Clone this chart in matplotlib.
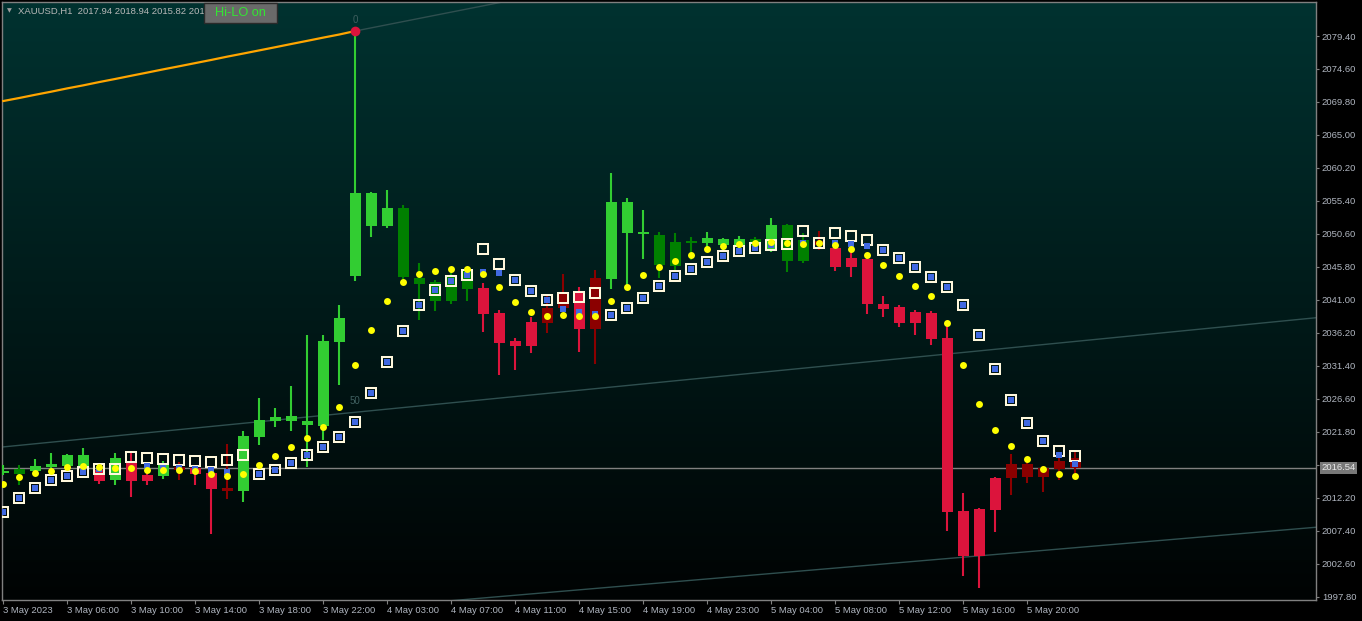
import numpy as np
import matplotlib.pyplot as plt
import matplotlib.transforms as mtransforms
from matplotlib.patches import Rectangle

# XAUUSD H1 candles (one per hour bar)
opens = [2015.85, 2015.70, 2016.13, 2016.72, 2016.86, 2016.57, 2016.24, 2014.78, 2017.21, 2015.51,
         2015.41, 2016.72, 2016.57, 2015.84, 2013.57, 2013.18, 2021.08, 2023.41, 2023.41, 2022.79,
         2022.64, 2034.91, 2044.51, 2051.79, 2051.79, 2044.37, 2043.35, 2040.88, 2040.88, 2042.62,
         2042.72, 2039.09, 2034.97, 2037.78, 2039.81, 2042.00, 2042.19, 2044.18, 2044.03, 2050.73,
         2050.63, 2046.07, 2045.93, 2049.27, 2049.27, 2048.98, 2048.98, 2048.84, 2048.25, 2046.65,
         2046.65, 2049.57, 2048.55, 2047.09, 2046.95, 2040.40, 2039.96, 2039.23, 2039.09, 2035.45,
         2010.27, 2010.56, 2015.07, 2017.11, 2017.11, 2016.53, 2017.55, 2017.94]
highs = [2016.90, 2016.96, 2017.84, 2018.75, 2018.57, 2019.44, 2016.82, 2018.75, 2018.71, 2016.96,
         2017.55, 2017.40, 2016.96, 2016.67, 2020.02, 2021.91, 2026.72, 2025.30, 2028.46, 2035.88,
         2035.88, 2040.25, 2080.13, 2056.70, 2056.99, 2054.80, 2046.36, 2043.90, 2045.05, 2045.49,
         2043.45, 2039.52, 2035.45, 2038.50, 2041.56, 2044.76, 2042.87, 2045.34, 2059.46, 2055.82,
         2054.08, 2050.88, 2050.73, 2050.15, 2050.88, 2050.00, 2050.29, 2050.15, 2052.91, 2052.04,
         2050.73, 2051.02, 2049.13, 2047.96, 2047.24, 2041.56, 2040.25, 2039.52, 2039.38, 2037.34,
         2012.89, 2010.70, 2015.22, 2018.57, 2017.84, 2016.82, 2018.86, 2018.94]
lows = [2015.50, 2014.05, 2015.41, 2015.61, 2016.75, 2016.50, 2014.20, 2014.05, 2012.35, 2014.05,
        2014.93, 2014.78, 2014.05, 2006.97, 2012.02, 2011.58, 2019.87, 2022.54, 2021.91, 2016.72,
        2020.60, 2028.61, 2043.79, 2050.19, 2051.50, 2043.89, 2038.07, 2039.42, 2040.40, 2040.88,
        2036.36, 2030.11, 2030.83, 2033.31, 2036.22, 2039.23, 2033.45, 2031.71, 2042.58, 2042.91,
        2046.95, 2044.18, 2045.34, 2046.80, 2048.69, 2048.25, 2048.40, 2048.25, 2047.96, 2045.05,
        2046.36, 2048.25, 2045.20, 2044.33, 2038.98, 2038.50, 2037.05, 2035.88, 2034.43, 2007.36,
        2000.81, 1999.06, 2007.21, 2012.60, 2014.34, 2013.03, 2014.78, 2015.82]
closes = [2016.10, 2016.34, 2016.82, 2017.15, 2018.42, 2018.42, 2014.64, 2017.94, 2014.64, 2014.64,
          2017.21, 2016.24, 2015.70, 2013.47, 2013.22, 2021.18, 2023.51, 2023.99, 2024.10, 2023.37,
          2035.01, 2038.36, 2056.55, 2056.55, 2054.37, 2054.37, 2044.18, 2043.60, 2044.51, 2045.34,
          2038.98, 2034.76, 2034.33, 2034.33, 2037.63, 2039.81, 2036.80, 2036.76, 2055.24, 2055.24,
          2050.92, 2050.44, 2049.42, 2049.61, 2050.00, 2049.86, 2049.86, 2049.86, 2051.89, 2051.89,
          2049.71, 2048.98, 2045.82, 2045.82, 2040.44, 2039.67, 2037.63, 2037.63, 2035.30, 2010.17,
          2003.72, 2003.72, 2010.41, 2015.07, 2015.22, 2015.22, 2016.38, 2016.54]
# G = up trend, g = weak up, R = down trend, r = weak down
candle_state = ("GgGGGGRGRR" "GrRRrGGGGG" "GGGGGggggg" "RRRRrrRrGG"
                "GgggGGGgGg" "grRRRRRRRR" "RRRrrrrr")

# indicator levels
dot_level = [2014.20, 2015.26, 2015.84, 2016.13, 2016.63, 2016.86, 2016.63, 2016.57, 2016.57, 2016.24,
             2016.24, 2016.24, 2016.13, 2015.70, 2015.41, 2015.70, 2017.01, 2018.32, 2019.63, 2020.94,
             2022.54, 2025.45, 2031.56, 2036.66, 2040.88, 2043.64, 2044.81, 2045.24, 2045.53, 2045.53,
             2044.81, 2042.91, 2040.73, 2039.28, 2038.69, 2038.84, 2038.69, 2038.69, 2040.88, 2042.91,
             2044.66, 2045.82, 2046.70, 2047.57, 2048.44, 2048.88, 2049.17, 2049.32, 2049.46, 2049.32,
             2049.17, 2049.32, 2049.03, 2048.44, 2047.57, 2046.12, 2044.51, 2043.06, 2041.60, 2037.67,
             2031.56, 2025.89, 2022.10, 2019.77, 2017.88, 2016.43, 2015.70, 2015.41]
frame_level = [2010.17, 2012.20, 2013.66, 2014.78, 2015.41, 2015.99, 2016.43, 2016.43, 2018.13, 2018.03,
               2017.84, 2017.69, 2017.59, 2017.36, 2017.69, 2018.42, 2015.70, 2016.24, 2017.30, 2018.46,
               2019.63, 2021.08, 2023.27, 2027.49, 2031.96, 2036.51, 2040.21, 2042.48, 2043.79, 2044.66,
               2048.44, 2046.26, 2043.93, 2042.29, 2041.02, 2041.31, 2041.46, 2042.04, 2038.84, 2039.86,
               2041.31, 2043.06, 2044.51, 2045.53, 2046.55, 2047.43, 2048.15, 2048.59, 2049.03, 2049.17,
               2051.06, 2049.32, 2050.77, 2050.34, 2049.75, 2048.25, 2047.13, 2045.82, 2044.37, 2042.91,
               2040.25, 2035.93, 2030.98, 2026.47, 2023.12, 2020.50, 2019.05, 2018.32]
nan = float('nan')
blue_level = [2010.17, 2012.20, 2013.66, 2014.78, 2015.41, 2015.99, 2016.43, nan, nan, 2016.82,
              2016.60, 2016.53, 2016.38, 2016.24, 2015.99, nan, 2015.70, 2016.24, 2017.30, 2018.46,
              2019.63, 2021.08, 2023.27, 2027.49, 2031.96, 2036.51, 2040.21, 2042.48, 2043.79, 2044.66,
              2045.05, 2044.95, 2043.93, 2042.29, 2041.02, 2039.71, 2039.28, 2038.98, 2038.84, 2039.86,
              2041.31, 2043.06, 2044.51, 2045.53, 2046.55, 2047.43, 2048.15, 2048.59, 2049.03, nan,
              2049.27, nan, 2049.32, 2049.17, 2048.88, 2048.25, 2047.13, 2045.82, 2044.37, 2042.91,
              2040.25, 2035.93, 2030.98, 2026.47, 2023.12, 2020.50, 2018.46, 2017.15]

# orange hi-lo line, bars 0..22
hilo_line = [2069.94, 2070.38, 2070.85, 2071.30, 2071.78, 2072.22, 2072.70, 2073.15, 2073.62, 2074.08,
             2074.55, 2075.00, 2075.46, 2075.92, 2076.40, 2076.85, 2077.31, 2077.77, 2078.24, 2078.70,
             2079.17, 2079.62, 2080.13]

# channel lines (bar index, price)
chan_top = ([22, 40], [2080.13, 2088.38])
chan_mid = ([0, 82], [2019.60, 2038.39])
chan_low = ([28, 82], [1997.22, 2007.90])

price_ticks = [1997.80, 2002.60, 2007.40, 2012.20, 2017.00, 2021.80, 2026.60, 2031.40, 2036.20,
               2041.00, 2045.80, 2050.60, 2055.40, 2060.20, 2065.00, 2069.80, 2074.60, 2079.40]
time_ticks = [0, 4, 8, 12, 16, 20, 24, 28, 32, 36, 40, 44, 48, 52, 56, 60, 64]
time_labels = ["3 May 2023", "3 May 06:00", "3 May 10:00", "3 May 14:00", "3 May 18:00",
               "3 May 22:00", "4 May 03:00", "4 May 07:00", "4 May 11:00", "4 May 15:00",
               "4 May 19:00", "4 May 23:00", "5 May 04:00", "5 May 08:00", "5 May 12:00",
               "5 May 16:00", "5 May 20:00"]
symbol = "XAUUSD,H1"

plt.rcParams['font.family'] = ['Liberation Sans', 'DejaVu Sans']

W, H = 1362, 621
fig = plt.figure(figsize=(W / 100, H / 100), dpi=100, facecolor='black')
ax = fig.add_axes([2 / W, 21 / H, 1314 / W, 598 / H])

# background gradient
grad = np.linspace(0, 1, 256)[:, None]
top = np.array([0.0, 0.196, 0.188])
bot = np.array([0.0, 0.012, 0.012])
img = (top[None, None, :] * (1 - grad[:, :, None]) + bot[None, None, :] * grad[:, :, None])
ax.imshow(img, extent=[0, 1, 0, 1], transform=ax.transAxes, aspect='auto', zorder=0)

bar_x = np.arange(len(opens))
o = np.array(opens)
c = np.array(closes)
state_colours = {'G': '#32cd32', 'g': '#008000', 'R': '#dc143c', 'r': '#8b0000'}
cols = [state_colours[s] for s in candle_state]

ax.vlines(bar_x, lows, highs, colors=cols, lw=1.5, zorder=3)
ax.bar(bar_x, np.maximum(np.abs(c - o), 0.3), bottom=np.minimum(o, c), width=0.69,
       color=cols, lw=0, zorder=3)

# channel
for xs, ys in (chan_top, chan_mid, chan_low):
    ax.plot(xs, ys, color='#2f4f4f', lw=1, zorder=2)
ax.annotate("0", (chan_top[0][0], chan_top[1][0]), xytext=(0, 8), textcoords='offset points',
            ha='center', va='center', color='#3f5f5f', fontsize=7, zorder=7)
mid_at_22 = np.interp(22, chan_mid[0], chan_mid[1])
ax.annotate("50", (22, mid_at_22), xytext=(0, 8), textcoords='offset points',
            ha='center', va='center', color='#3f5f5f', fontsize=7, zorder=7)

ax.plot(np.arange(len(hilo_line)), hilo_line, color='#ffa500', lw=1.6, zorder=3)
ax.plot([22], [hilo_line[-1]], 'o', ms=7, mfc='#dc143c', mew=0, zorder=8)

# indicator markers
ax.plot(bar_x, frame_level, ls='none', marker='s', ms=6.8, mfc='none', mec='#fff8dc', mew=1.45, zorder=4)
ax.plot(bar_x, blue_level, ls='none', marker='s', ms=5, mfc='#4169e1', mew=0, zorder=5)
ax.plot(bar_x, dot_level, ls='none', marker='o', ms=5, mfc='#ffff00', mew=0, zorder=6)

# current price line
last = closes[-1]
ax.axhline(last, color='#808080', lw=1, zorder=2)

ax.set_xlim(-0.08, 82.04)
ax.set_ylim(1997.32, 2084.35)

for sp in ax.spines.values():
    sp.set_color('#808080')
    sp.set_linewidth(1)

ax.yaxis.tick_right()
ax.set_yticks(price_ticks)
ax.set_yticklabels([f"{v:.2f}" for v in price_ticks])
ax.tick_params(axis='y', direction='out', length=2.2, width=0.8, color='#808080',
               labelcolor='#b0b6c0', labelsize=6.8, pad=2)
for lbl in ax.get_yticklabels():
    lbl.set_horizontalalignment('left')

ax.set_xticks(time_ticks)
ax.set_xticklabels(time_labels)
ax.tick_params(axis='x', direction='out', length=3, width=0.8, color='#808080',
               labelcolor='#b0b6c0', labelsize=6.8, pad=1.5)
for lbl in ax.get_xticklabels():
    lbl.set_horizontalalignment('left')

# current price tag
tr = mtransforms.blended_transform_factory(ax.transAxes, ax.transData)
ax.text(1 + 5 / 1314, last, f"{last:.2f}", transform=tr, ha='left', va='center',
        fontsize=6.8, color='#e8e8e8', zorder=9, clip_on=False,
        bbox=dict(boxstyle='square,pad=0.15', fc='#787878', ec='none'))

# header, cut off by the button like in the terminal
fig.text(7 / W, 1 - 11 / H, "\u25bc", fontsize=4.5, color='#a0a0a0', va='center',
         family='DejaVu Sans', zorder=5)
head = fig.text(18 / W, 1 - 11 / H,
                f"{symbol}  {opens[-1]:.2f} {highs[-1]:.2f} {lows[-1]:.2f} {closes[-1]:.2f}",
                fontsize=6.8, color='#b8b8b8', va='center', zorder=5)
head.set_clip_box(mtransforms.Bbox([[0, H - 25], [204, H]]))
head.set_clip_on(True)

fig.patches.append(Rectangle((204 / W, 1 - 22.5 / H), 73 / W, 19.5 / H, transform=fig.transFigure,
                             fc='#6a6a6a', ec='#2a2a2a', lw=1, zorder=10))
fig.text(240 / W, 1 - 13 / H, "Hi-LO on", fontsize=9.2, color='#33e633',
         ha='center', va='center', zorder=11)

fig.savefig('out.png', dpi=100, facecolor='black')
